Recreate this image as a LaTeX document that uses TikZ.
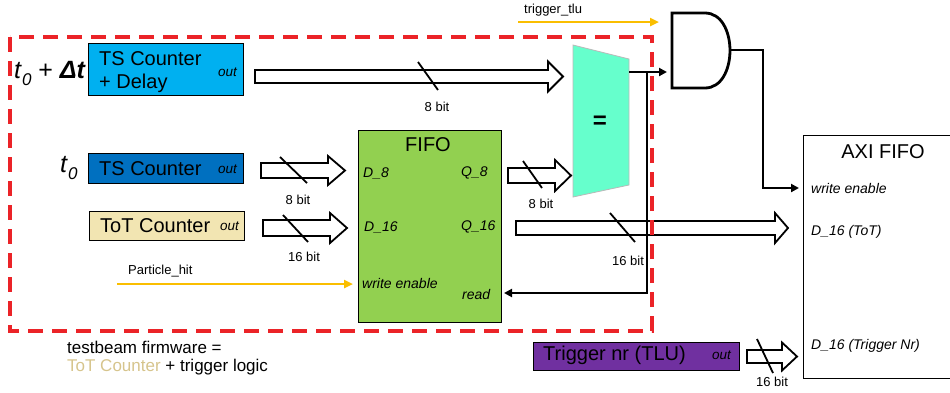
\documentclass[tikz,border=0pt]{standalone}
\usepackage{fontspec}
\setmainfont{Liberation Sans}
\usetikzlibrary{arrows.meta}
\definecolor{tscyan}{RGB}{0,176,240}
\definecolor{tsblue}{RGB}{0,112,192}
\definecolor{tottan}{RGB}{242,229,178}
\definecolor{tottext}{RGB}{214,196,140}
\definecolor{fifogreen}{RGB}{146,208,80}
\definecolor{tlupurple}{RGB}{112,48,160}
\definecolor{cmpgreen}{RGB}{102,255,204}
\definecolor{sigorange}{RGB}{250,190,0}
\definecolor{fwred}{RGB}{235,35,40}
\newcommand\FatArr[6]{\draw[fat] (#1,#3-#4) -- (#6,#3-#4) -- (#6,#3-#5) -- (#2,#3) -- (#6,#3+#5) -- (#6,#3+#4) -- (#1,#3+#4) -- cycle;}
\tikzset{
 box/.style={draw=black, line width=1.4pt, anchor=north west, inner sep=0pt},
 lbl/.style={anchor=west, inner sep=0pt},
 big/.style={font=\fontsize{20}{24}\selectfont},
 port/.style={anchor=west, inner sep=0pt, font=\fontsize{14}{16}\selectfont\itshape},
 outl/.style={anchor=west, inner sep=0pt, font=\fontsize{13.5}{16}\selectfont\itshape},
 bits/.style={font=\fontsize{13}{15}\selectfont, inner sep=0pt},
 fat/.style={draw=black, fill=white, line width=1.8pt, line join=miter},
 slash/.style={draw=black, line width=1.8pt},
 wire/.style={draw=black, line width=2pt},
 wirearr/.style={wire, -{Triangle[length=8pt,width=8pt]}},
 sig/.style={draw=sigorange, line width=2.5pt, -{Triangle[length=9pt,width=8pt]}},
 fw/.style={draw=fwred, line width=3.5pt, dash pattern=on 15pt off 9pt},
}
\begin{document}
\begin{tikzpicture}[x=1pt,y=-1pt]
\useasboundingbox (0,0) rectangle (950,392);

% boxes
\node[box, fill=tscyan, minimum width=155pt, minimum height=52pt] (tsd) at (88,43) {};
\node[box, fill=tsblue, minimum width=155pt, minimum height=30pt] (ts) at (88,153) {};
\node[box, fill=tottan, minimum width=155pt, minimum height=29pt] (tot) at (89,211) {};
\node[box, fill=fifogreen, minimum width=143pt, minimum height=192pt] (fifo) at (358,130) {};
\node[box, fill=tlupurple, minimum width=206pt, minimum height=28pt] (tlu) at (533,342) {};
\node[box, fill=white, minimum width=160pt, minimum height=243pt] (axi) at (803,135) {};

% box texts
\node[lbl, big] (tsdt1) at (99,59) {TS Counter};
\node[lbl, big] (tsdt2) at (99,83) {+ Delay};
\node[outl] (tsdout) at (218,72) {out};
\node[lbl, big] (tst) at (99,169) {TS Counter};
\node[outl] (tsout) at (218,169) {out};
\node[lbl, big] (tott) at (100,226) {ToT Counter};
\node[outl] (totout) at (220,226) {out};
\node[lbl, big] (tlut) at (543,355) {Trigger nr (TLU)};
\node[outl] (tluout) at (712,355) {out};

\node[big, inner sep=0pt] (fifot) at (428,145) {FIFO};
\node[port] (d8) at (363,173) {D\_8};
\node[port] (q8) at (461,173) {Q\_8};
\node[port] (d16) at (364,227) {D\_16};
\node[port] (q16) at (461,227) {Q\_16};
\node[port] (we) at (362,283) {write enable};
\node[port] (rd) at (462,294) {read};

\node[big, inner sep=0pt] (axit) at (883,152) {AXI FIFO};
\node[port] (axiwe) at (811,188) {write enable};
\node[port] (axitot) at (811,232) {D\_16 (ToT)};
\node[port] (axitr) at (811,346) {D\_16 (Trigger Nr)};

% time labels
\node[lbl, font=\fontsize{25}{30}\selectfont] (tdelta) at (14,73) {\textit{t}\raisebox{-0.28em}{\fontsize{17}{18}\selectfont\textit{0}} + \textbf{\textit{Δt}}};
\node[lbl, font=\fontsize{25}{30}\selectfont] (tzero) at (60,168) {\textit{t}\raisebox{-0.28em}{\fontsize{17}{18}\selectfont\textit{0}}};

% comparator
\draw[draw=gray!55, fill=cmpgreen, line width=0.8pt] (573,45) -- (629,59) -- (629,185) -- (573,197) -- cycle;
\node[inner sep=0pt, font=\fontsize{24}{24}\selectfont\bfseries] (cmp) at (600,122) {=};

% AND gate
\draw[line width=2.8pt, fill=white] (672,13) -- (705,13) .. controls (738.3,13) and (738.3,88) .. (705,88) -- (672,88) -- cycle;
\coordinate (andg) at (705,50);

% fat bus arrows
\FatArr{255}{563}{76.5}{6.5}{15}{548}
\draw[slash] (418,62) -- (438,90);
\node[bits] (b1) at (437,107) {8 bit};

\FatArr{261}{345}{170.5}{7.5}{14.5}{328}
\draw[slash] (280,157) -- (307,183);
\node[bits] (b2) at (298,200) {8 bit};

\FatArr{263}{347}{228}{8}{15}{330}
\draw[slash] (283,215) -- (308,242);
\node[bits] (b3) at (304,257) {16 bit};

\FatArr{508}{571}{175.5}{7.5}{15.5}{555}
\draw[slash] (523,161) -- (542,188);
\node[bits] (b4) at (541,204) {8 bit};

\FatArr{516}{788}{228}{7}{15}{775}
\draw[slash] (610,213) -- (635,242);
\node[bits] (b5) at (628,261) {16 bit};

\FatArr{747}{797}{356.5}{6.5}{14}{782}
\draw[slash] (757,339) -- (773,373);
\node[bits] (b6) at (772,382) {16 bit};

% thin wires
\coordinate (cmpout) at (629,72);
\coordinate (andin) at (667,72);
\coordinate (split) at (647,72);
\coordinate (rdin) at (504,293);
\coordinate (andout) at (730,50);
\coordinate (axiin) at (799,188);
\draw[wirearr] (cmpout) -- (andin);
\draw[wirearr] (split) |- (rdin);
\draw[wirearr] (andout) -| (763,188) -- (axiin);

% orange signals
\coordinate (tluS) at (518,22);
\coordinate (tluE) at (659,22);
\draw[sig] (tluS) -- (tluE);
\node[bits, anchor=west] (tlul) at (524,10) {trigger\_tlu};
\coordinate (phS) at (117,284);
\coordinate (phE) at (353,284);
\draw[sig] (phS) -- (phE);
\node[bits, anchor=west] (phl) at (128,271) {Particle\_hit};

% firmware frame
\draw[fw] (10,37) rectangle (652,331);
\node[lbl, font=\fontsize{17}{20}\selectfont] (fw1) at (67,347) {testbeam firmware =};
\node[lbl, font=\fontsize{17}{20}\selectfont] (fw2) at (67,367) {\textcolor{tottext}{ToT Counter} + trigger logic};
\end{tikzpicture}
\end{document}
